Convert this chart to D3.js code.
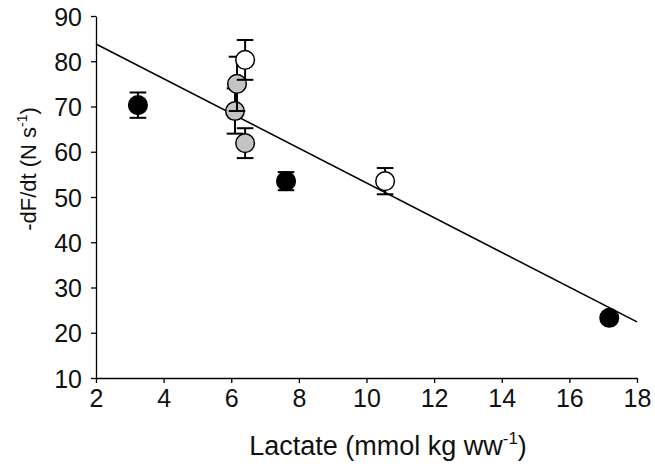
<!DOCTYPE html>
<html>
<head>
<meta charset="utf-8">
<script src="https://cdn.jsdelivr.net/npm/d3@7"></script>
<style>
  html, body { margin: 0; padding: 0; background: #fff; }
  svg { display: block; font-family: "Liberation Sans", Arial, sans-serif; }
</style>
</head>
<body>
<svg id="chart" width="655" height="466"></svg>
<script>
// ---- data ----
const xTicks = [2, 4, 6, 8, 10, 12, 14, 16, 18];
const yTicks = [10, 20, 30, 40, 50, 60, 70, 80, 90];

// black filled series
const blackX   = [3.24, 7.62, 17.18];
const blackY   = [70.3, 53.5, 23.3];
const blackErr = [2.8, 2.0, 0.8];

// grey series
const greyX   = [6.41, 6.11, 6.17];
const greyY   = [61.9, 69.0, 75.0];
const greyErr = [3.3, 5.0, 6.0];

// open series
const whiteX   = [6.41, 10.55];
const whiteY   = [80.3, 53.5];
const whiteErr = [4.4, 2.9];

// regression line endpoints
const fitX = [2, 18];
const fitY = [83.8, 22.4];

// ---- layout ----
const svg = d3.select("#chart");
const mLeft = 96, mRight = 637, mTop = 16, mBottom = 378;

const x = d3.scaleLinear().domain([2, 18]).range([mLeft, mRight]);
const y = d3.scaleLinear().domain([10, 90]).range([mBottom, mTop]);

// axes
const xAxis = d3.axisBottom(x).tickValues(xTicks).tickSize(5).tickSizeOuter(0).tickPadding(6.5);
const yAxis = d3.axisLeft(y).tickValues(yTicks).tickSize(5).tickSizeOuter(0).tickPadding(9);

const gx = svg.append("g").attr("transform", `translate(0,${mBottom})`).call(xAxis);
const gy = svg.append("g").attr("transform", `translate(${mLeft},0)`).call(yAxis);

[gx, gy].forEach(g => {
  g.select(".domain").attr("stroke", "#000").attr("stroke-width", 1.3);
  g.selectAll(".tick line").attr("stroke", "#000").attr("stroke-width", 1.3);
  g.selectAll(".tick text").attr("fill", "#111").style("font-size", "25px");
});
gx.selectAll(".tick text").attr("dy", "0.71em");
gy.selectAll(".tick text").attr("dy", "0.36em");

// axis titles
const xt = svg.append("text")
  .attr("x", 388)
  .attr("y", 455)
  .attr("text-anchor", "middle")
  .style("font-size", "27px")
  .attr("fill", "#111");
xt.append("tspan").text("Lactate (mmol kg ww");
xt.append("tspan").attr("dy", -11).style("font-size", "17px").text("-1");
xt.append("tspan").attr("dy", 11).text(")");

const yt = svg.append("text")
  .attr("transform", `translate(36,169) rotate(-90)`)
  .attr("text-anchor", "middle")
  .style("font-size", "22px")
  .attr("fill", "#111");
yt.append("tspan").text("-dF/dt (N s");
yt.append("tspan").attr("dy", -9).style("font-size", "14px").text("-1");
yt.append("tspan").attr("dy", 9).text(")");

// regression line
svg.append("line")
  .attr("x1", x(fitX[0])).attr("y1", y(fitY[0]))
  .attr("x2", x(fitX[1])).attr("y2", y(fitY[1]))
  .attr("stroke", "#000").attr("stroke-width", 1.6);

// points with error bars
const capW = 8.3, r = 9.3;
function drawSeries(xs, ys, es, fill) {
  xs.forEach((xv, i) => {
    const g = svg.append("g");
    const cx = x(xv), yHi = y(ys[i] + es[i]), yLo = y(ys[i] - es[i]);
    g.append("line").attr("x1", cx).attr("x2", cx).attr("y1", yHi).attr("y2", yLo)
      .attr("stroke", "#000").attr("stroke-width", 2);
    [yHi, yLo].forEach(yy => g.append("line")
      .attr("x1", cx - capW).attr("x2", cx + capW).attr("y1", yy).attr("y2", yy)
      .attr("stroke", "#000").attr("stroke-width", 2));
    g.append("circle").attr("cx", cx).attr("cy", y(ys[i])).attr("r", r)
      .attr("fill", fill).attr("stroke", "#000").attr("stroke-width", 1.5);
  });
}
drawSeries(blackX, blackY, blackErr, "#000");
drawSeries(greyX, greyY, greyErr, "#c4c4c4");
drawSeries(whiteX, whiteY, whiteErr, "#fff");
</script>
</body>
</html>
